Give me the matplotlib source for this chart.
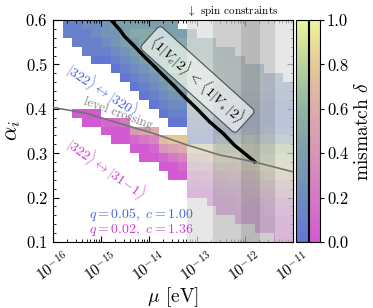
import numpy as np
import matplotlib
matplotlib.use("Agg")
import matplotlib.pyplot as plt
from matplotlib.colors import LinearSegmentedColormap, Normalize
from matplotlib.ticker import LogLocator, MultipleLocator, NullFormatter

plt.rcParams['font.family'] = 'serif'
plt.rcParams['font.serif'] = ['cmr10']
plt.rcParams['mathtext.fontset'] = 'cm'
plt.rcParams['axes.formatter.use_mathtext'] = True

# cell grid: log10(mu) columns and alpha rows (top row first)
logmu_edges = np.round(np.arange(-15.8, -10.95, 0.2), 2)
alpha_edges = np.round(0.6 - 0.02 * np.arange(26), 3)

# q = 0.05 band (|322> <-> |320>): first row per column, mismatch digits (x0.1) going down
blue_top = [0, 0, 0, 0, 0, 0, 0, 0, 0, 0, 0, 0, 1,
            1, 2, 2, 3, 3, 4, 5, 5, 6, 6, 7]
blue_cols = ["11", "111", "2111", "22110", "33210", "433210", "4443210",
             "45443210", "455543210", "4556543210", "44566543210",
             "445667543210", "45667653210",
             "4556667654321", "556667654321", "555666654211", "455655432148",
             "445554321158", "45543211269", "4443211379", "34432112589",
             "3321113689", "3321112589", "221112589"]

# q = 0.02 band (|322> <-> |31-1>)
pink_top = [0, 10, 10, 10, 11, 11, 11, 12, 12, 12, 13, 13, 13,
            14, 14, 14, 15, 15, 15, 15, 16, 16, 16, 16]
pink_cols = ["", "0", "00", "00", "10", "100", "200", "410", "5200", "6310",
             "7410", "85200", "86310",
             "974210", "975210", "9853100", "9742100", "9753100", "98532100",
             "98642100", "97531000", "98532100", "986421000", "986421000"]

# spin constraint bands (log10 mu)
spin_bands = [(-13.2, -11.0), (-12.67, -11.38), (-12.08, -11.69)]

# <1|Vc|2> = <1|V*|2> boundary
bound_logmu = [-14.79, -14.61, -14.51, -14.33, -14.13, -13.92, -13.71, -13.5,
               -13.26, -13.01, -12.74, -12.46, -12.22, -11.97, -11.80]
bound_alpha = [0.600, 0.578, 0.563, 0.544, 0.521, 0.499, 0.476, 0.454,
               0.427, 0.401, 0.371, 0.345, 0.318, 0.296, 0.281]

# level crossing
cross_logmu = [-16.0, -15.31, -14.61, -13.92, -13.22, -12.53, -11.83, -11.0]
cross_alpha = [0.403, 0.390, 0.367, 0.345, 0.319, 0.296, 0.281, 0.258]

xtick_exp = [-16, -15, -14, -13, -12, -11]


def build_grid(tops, cols):
    grid = np.full((len(alpha_edges) - 1, len(logmu_edges) - 1), np.nan)
    for k, (t, s) in enumerate(zip(tops, cols)):
        for i, ch in enumerate(s):
            grid[t + i, k] = int(ch) / 10
    return np.ma.masked_invalid(grid)


cmap_blue = LinearSegmentedColormap.from_list(
    'blue_mis', ['#6276d4', '#6e8cc0', '#7c9fae', '#8fb3a4', '#b8d59a', '#eef49c'])
cmap_pink = LinearSegmentedColormap.from_list(
    'pink_mis', ['#d25ad2', '#d47ac4', '#d896b8', '#dcacaa', '#e4c898', '#eef49c'])
norm = Normalize(0, 1)

fig = plt.figure(figsize=(3.73, 3.08), dpi=100)
ax = fig.add_axes([0.1421, 0.2143, 0.6434, 0.7208])

mu_edges = 10.0 ** logmu_edges
m1 = ax.pcolormesh(mu_edges, alpha_edges, build_grid(blue_top, blue_cols),
                   cmap=cmap_blue, norm=norm, zorder=1)
m2 = ax.pcolormesh(mu_edges, alpha_edges, build_grid(pink_top, pink_cols),
                   cmap=cmap_pink, norm=norm, zorder=1)

# excluded by spin measurements
ax.axvspan(10 ** spin_bands[0][0], 10 ** spin_bands[0][1], color='0.87',
           alpha=0.72, lw=0, zorder=2)
for lo, hi in spin_bands[1:]:
    ax.axvspan(10 ** lo, 10 ** hi, color='k', alpha=0.1, lw=0, zorder=2)

ax.plot(10.0 ** np.array(bound_logmu), bound_alpha, color='k', lw=2.5, zorder=4)
ax.plot(10.0 ** np.array(cross_logmu), cross_alpha, color='0.45', lw=1.2, zorder=4)

ax.text(10 ** -12.99, 0.466, r'$\langle 1|V_c|2\rangle\,<\,\langle 1|V_*|2\rangle$',
        rotation=-42, ha='center', va='center', fontsize=10, zorder=5,
        bbox=dict(boxstyle='round,pad=0.3', fc=(0.93, 0.95, 0.95, 0.7), ec='0.3', lw=0.8))
ax.text(10 ** -14.97, 0.442, r'$|322\rangle \leftrightarrow |320\rangle$', color='#4466dd',
        rotation=-33, ha='center', va='center', fontsize=10, zorder=5)
ax.text(10 ** -14.65, 0.388, 'level crossing', color='0.5',
        rotation=-20, ha='center', va='center', fontsize=9, zorder=5)
ax.text(10 ** -14.89, 0.266, r'$|322\rangle \leftrightarrow |31{-}1\rangle$', color='#d23cd2',
        rotation=-35, ha='center', va='center', fontsize=10, zorder=5)
ax.text(10 ** -14.16, 0.162, r'$q=0.05,\ c=1.00$', color='#4466dd',
        ha='center', va='center', fontsize=10, zorder=5)
ax.text(10 ** -14.16, 0.126, r'$q=0.02,\ c=1.36$', color='#d23cd2',
        ha='center', va='center', fontsize=10, zorder=5)
ax.text(10 ** -13.2, 0.604, r'$\downarrow$ spin constraints', ha='left', va='bottom',
        fontsize=8)

ax.set_xscale('log')
ax.set_xlim(1e-16, 1e-11)
ax.set_ylim(0.1, 0.6)
ax.set_xlabel(r'$\mu$ [eV]', fontsize=14, labelpad=0)
ax.set_ylabel(r'$\alpha_i$', fontsize=16, labelpad=2)
ax.set_xticks([10.0 ** e for e in xtick_exp])
ax.set_xticklabels([r'$10^{%d}$' % e for e in xtick_exp], fontsize=11,
                   rotation=35, ha='center', rotation_mode='default')
ax.xaxis.set_minor_locator(LogLocator(base=10, subs=np.arange(2, 10), numticks=20))
ax.xaxis.set_minor_formatter(NullFormatter())
ax.yaxis.set_major_locator(MultipleLocator(0.1))
ax.yaxis.set_minor_locator(MultipleLocator(0.02))
ax.tick_params(which='both', direction='in', top=True, right=True)
ax.tick_params(which='major', length=4, width=0.8)
ax.tick_params(which='minor', length=2, width=0.6)
ax.tick_params(axis='y', labelsize=12)
ax.tick_params(axis='x', pad=5)

cax1 = fig.add_axes([0.7936, 0.2143, 0.0308, 0.7208])
cax2 = fig.add_axes([0.8271, 0.2143, 0.0308, 0.7208])
cb1 = fig.colorbar(m1, cax=cax1)
cb2 = fig.colorbar(m2, cax=cax2)
ticks = [0.0, 0.2, 0.4, 0.6, 0.8, 1.0]
cb1.set_ticks(ticks)
cb2.set_ticks(ticks)
cax1.tick_params(labelright=False, length=3, width=0.8)
cax2.tick_params(labelsize=12, length=3, width=0.8, pad=2)
cb2.ax.set_yticklabels(['0.0', '0.2', '0.4', '0.6', '0.8', '1.0'])
cb2.set_label(r'mismatch $\delta$', fontsize=14, labelpad=4)

fig.savefig('out.png', dpi=100)
